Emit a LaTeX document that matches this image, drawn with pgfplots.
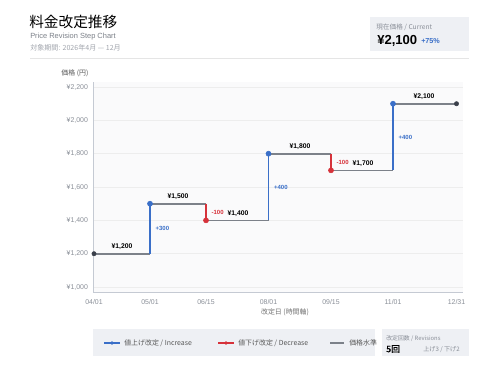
\documentclass[border=0pt]{standalone}
\usepackage{pgfplots}
\pgfplotsset{compat=1.18}
\usepackage{fontspec}
\setmainfont{Liberation Sans}
\newfontfamily\jp{Noto Sans CJK JP}[AutoFakeBold=2]
\definecolor{incblue}{HTML}{3A6FC8}
\definecolor{decred}{HTML}{D6323A}
\definecolor{lvlgray}{HTML}{7C8189}
\definecolor{dotdark}{HTML}{3A3F4A}
\definecolor{boxbg}{HTML}{EEF0F4}
\definecolor{plotbg}{HTML}{FAFAFB}
\definecolor{txtgray}{HTML}{8A8F98}
\definecolor{axgray}{HTML}{C5CAD3}
\newcommand{\fs}[1]{\fontsize{#1}{#1}\selectfont}
\begin{document}
\begin{tikzpicture}[x=0.75pt,y=-0.75pt]
\fill[white] (0,0) rectangle (500,375);
% header
\node[anchor=west,inner sep=0] at (29,22) {\jp\fs{11}料金改定推移};
\node[anchor=west,inner sep=0,text=txtgray!90!black] at (30,37) {\fs{5.6}Price Revision Step Chart};
\node[anchor=west,inner sep=0,text=txtgray!80] at (30,47.5) {\jp\fs{5.3}対象期間: 2026年4月 — 12月};
\draw[black!10,line width=0.6pt] (30,58) -- (469,58);
% current box
\fill[boxbg] (370,17) rectangle (469,51);
\node[anchor=west,inner sep=0,text=txtgray] at (376,27) {\jp\fs{5}現在価格 / Current};
\node[anchor=west,inner sep=0] at (377,40.5) {\fs{9.8}\bfseries ¥2,100};
\node[anchor=west,inner sep=0,text=incblue] at (421,41) {\fs{5.4}\bfseries +75\%};
% axis
\begin{axis}[
  at={(69.975pt,-219.525pt)}, anchor=south west,
  width=277.05pt, height=158pt, scale only axis,
  xmin=93.3, xmax=462.7, ymin=966, ymax=2230,
  axis background/.style={fill=plotbg},
  axis x line*=bottom, axis y line*=left,
  axis line style={axgray,line width=0.8pt},
  every outer x axis line/.append style={-},
  every outer y axis line/.append style={-},
  xtick={94,150,206,268.5,331,393,456.5},
  xticklabels={04/01,05/01,06/15,08/01,09/15,11/01,12/31},
  ytick={1000,1200,1400,1600,1800,2000,2200},
  yticklabels={{¥1,000},{¥1,200},{¥1,400},{¥1,600},{¥1,800},{¥2,000},{¥2,200}},
  ymajorgrids, major grid style={black!7,line width=0.5pt},
  major tick length=0pt,
  tick label style={font=\fs{5.2},text=txtgray},
  /pgf/number format/assume math mode=true,
  xticklabel style={yshift=-1.5pt},
  yticklabel style={xshift=-0.5pt},
  clip=false,
]
\addplot[lvlgray,line width=1.3pt,unbounded coords=jump] coordinates {
 (94,1200) (150,1200) (nan,nan)
 (150,1500) (206,1500) (nan,nan)
 (206,1400) (268.5,1400) (nan,nan)
 (268.5,1800) (331,1800) (nan,nan)
 (331,1700) (393,1700) (nan,nan)
 (393,2100) (456.5,2100)};
\addplot[incblue,line width=1.3pt,unbounded coords=jump] coordinates {
 (150,1200) (150,1500) (nan,nan)
 (268.5,1400) (268.5,1800) (nan,nan)
 (393,1700) (393,2100)};
\addplot[decred,line width=1.3pt,unbounded coords=jump] coordinates {
 (206,1500) (206,1400) (nan,nan)
 (331,1800) (331,1700)};
\addplot[only marks,mark=*,mark size=1.9pt,incblue] coordinates {(150,1500) (268.5,1800) (393,2100)};
\addplot[only marks,mark=*,mark size=1.9pt,decred] coordinates {(206,1400) (331,1700)};
\addplot[only marks,mark=*,mark size=1.6pt,dotdark] coordinates {(94,1200) (456.5,2100)};
% value labels
\foreach \xx/\yy/\lab in {122/1200/{¥1,200},178/1500/{¥1,500},238/1400/{¥1,400},300/1800/{¥1,800},363/1700/{¥1,700},424/2100/{¥2,100}}{
  \edef\tmp{\noexpand\node[anchor=south,inner sep=0,yshift=2.6pt] at (axis cs:\xx,\yy) {\noexpand\fs{5.1}\noexpand\bfseries \lab};}\tmp
}
\node[anchor=west,inner sep=0,text=incblue,xshift=4pt] at (axis cs:150,1350) {\fs{4.5}\bfseries +300};
\node[anchor=west,inner sep=0,text=decred,xshift=4pt] at (axis cs:206,1450) {\fs{4.5}\bfseries -100};
\node[anchor=west,inner sep=0,text=incblue,xshift=4pt] at (axis cs:268.5,1600) {\fs{4.5}\bfseries +400};
\node[anchor=west,inner sep=0,text=decred,xshift=4pt] at (axis cs:331,1750) {\fs{4.5}\bfseries -100};
\node[anchor=west,inner sep=0,text=incblue,xshift=4pt] at (axis cs:393,1900) {\fs{4.5}\bfseries +400};
\end{axis}
% axis titles
\node[inner sep=0,text=black!65] at (75,73) {\jp\fs{5.2}価格 (円)};
\node[inner sep=0,text=black!55] at (285,312) {\jp\fs{5.2}改定日 (時間軸)};
% legend box
\fill[boxbg] (93,329) rectangle (375,356);
\draw[incblue,line width=1.2pt] (104,343) -- (120,343);
\fill[incblue] (112,343) circle (1.8);
\node[anchor=west,inner sep=0,text=black!65] at (124,343) {\jp\fs{5.2}値上げ改定 / Increase};
\draw[decred,line width=1.2pt] (218,343) -- (234,343);
\fill[decred] (226,343) circle (1.8);
\node[anchor=west,inner sep=0,text=black!65] at (238,343) {\jp\fs{5.2}値下げ改定 / Decrease};
\draw[lvlgray,line width=1.2pt] (330,343) -- (344,343);
\node[anchor=west,inner sep=0,text=black!65] at (349,343) {\jp\fs{5.2}価格水準};
% revisions box
\fill[boxbg] (382,329) rectangle (469,356);
\node[anchor=west,inner sep=0,text=txtgray] at (386,338.5) {\jp\fs{4.4}改定回数 / Revisions};
\node[anchor=west,inner sep=0] at (386,349) {\jp\fs{6.6}\bfseries 5回};
\node[anchor=west,inner sep=0,text=txtgray] at (423,349.5) {\jp\fs{4.6}上げ3 / 下げ2};
\end{tikzpicture}
\end{document}
